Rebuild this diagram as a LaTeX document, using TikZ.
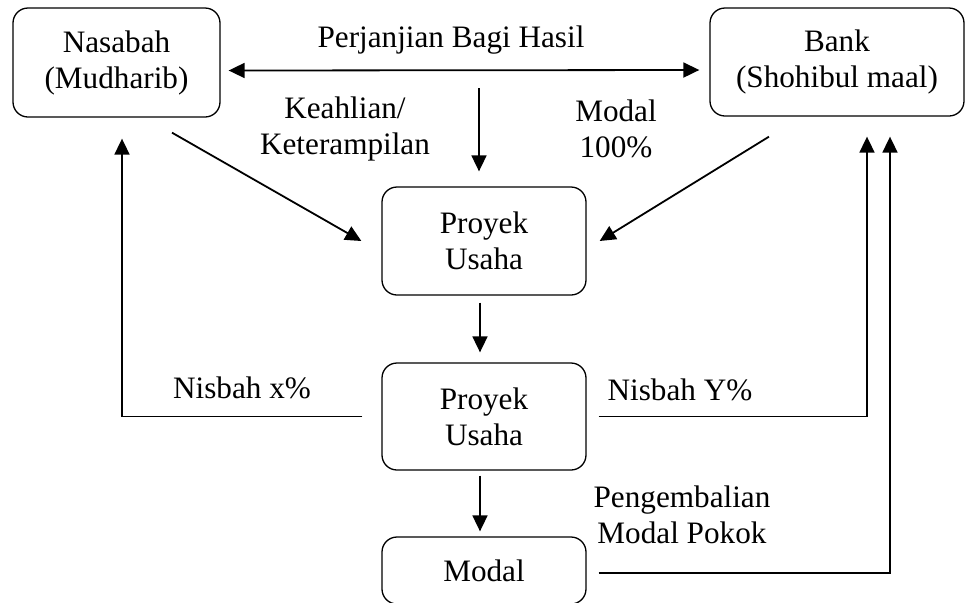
\documentclass[tikz,border=0pt]{standalone}
\usepackage{fontspec}
\setmainfont{Liberation Serif}
\usetikzlibrary{arrows.meta}
\usetikzlibrary{positioning,calc}

\begin{document}
\begin{tikzpicture}[
x=0.5pt, y=-0.5pt,
MyBox/.style={draw, rounded corners=7.5pt, line width=0.65pt, align=center, inner sep=0pt, font=\fontsize{15.6}{18}\selectfont},
MyLabel/.style={align=center, inner sep=0pt, font=\fontsize{15.6}{18}\selectfont},
MyArrow/.style={-{Triangle[length=8pt, width=7.5pt]}, line width=0.9pt},
every node/.style={scale=1}
]
\useasboundingbox (0,0) rectangle (966,602);

% the parties and the project
\node[MyBox, minimum width=103.5pt, minimum height=54.5pt] (nasabah) at (116.5,62.5) {Nasabah\\(Mudharib)};
\node[MyBox, minimum width=127pt, minimum height=54pt] (bank) at (837,62) {Bank\\(Shohibul maal)};
\node[MyBox, minimum width=102pt, minimum height=54pt] (proyek) at (484,241) {Proyek\\Usaha};
\node[MyBox, minimum width=102pt, minimum height=53.5pt] (usaha) at (484,416.5) {Proyek\\Usaha};
\node[MyBox, minimum width=102pt, minimum height=33.5pt] (modal) at (484,570.5) {Modal};

% labels
\node[MyLabel] (perjanjian) at (451,40) {Perjanjian Bagi Hasil};
\node[MyLabel] (keahlian) at (345,129) {Keahlian/\\Keterampilan};
\node[MyLabel] (modalpenuh) at (616,129) {Modal\\100\%};
\node[MyLabel] (nisbahx) at (242,388) {Nisbah x\%};
\node[MyLabel] (nisbahy) at (680,390) {Nisbah Y\%};
\node[MyLabel] (pengembalian) at (682,515) {Pengembalian\\Modal Pokok};

\coordinate (akad) at (479,88);

\draw[MyArrow, {Triangle[length=8pt, width=7.5pt]}-{Triangle[length=8pt, width=7.5pt]}]
  ([xshift=4pt,yshift=-4pt]nasabah.east) -- ([xshift=-5pt,yshift=-4pt]bank.west);
\draw[MyArrow, shorten >=7.5pt] (akad) -- (akad |- proyek.north);

\draw[MyArrow] ([shift={(27.75pt,-7.5pt)}]nasabah.south) -- ([xshift=-10pt]proyek.west);
\draw[MyArrow] ([shift={(-34pt,-10pt)}]bank.south) -- ([xshift=6.5pt]proyek.east);

\draw[MyArrow] ([shift={(-2pt,-3.5pt)}]proyek.south) -- ([shift={(-2pt,5pt)}]usaha.north);
\draw[MyArrow] ([shift={(-2pt,-2.5pt)}]usaha.south) -- ([shift={(-2pt,2.5pt)}]modal.north);

% profit sharing and return of capital
\draw[MyArrow] ([xshift=-9.5pt]usaha.west) -| ([shift={(2.75pt,-10.5pt)}]nasabah.south);
\draw[MyArrow] ([xshift=6pt]usaha.east) -| ([shift={(15pt,-10pt)}]bank.south);
\draw[MyArrow] ([shift={(6pt,-1.25pt)}]modal.east) -| ([shift={(26.5pt,-10pt)}]bank.south);

\end{tikzpicture}
\end{document}
